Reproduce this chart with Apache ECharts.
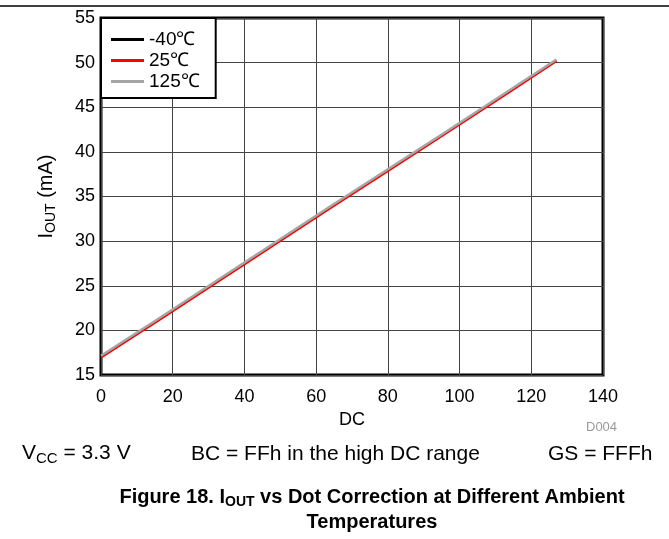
<!DOCTYPE html>
<html>
<head>
<meta charset="utf-8">
<script src="https://cdn.jsdelivr.net/npm/echarts@6/dist/echarts.min.js"></script>
<style>
html,body{margin:0;padding:0;background:#fff;}
#chart{width:669px;height:539px;}
</style>
</head>
<body>
<div id="chart"></div>
<script>
// Data
const dcValues = [0, 16, 32, 48, 64, 80, 96, 112, 127];
const seriesNames = ['-40℃', '25℃', '125℃'];
const iMinus40 = [17.05, 21.2, 25.4, 29.6, 33.8, 37.95, 42.1, 46.3, 50.25];
const i25 = [16.95, 21.1, 25.3, 29.5, 33.7, 37.85, 42.0, 46.2, 50.15];
const i125 = [17.15, 21.3, 25.5, 29.7, 33.9, 38.05, 42.2, 46.4, 50.35];
const xTicks = [0, 20, 40, 60, 80, 100, 120, 140];
const yTicks = [15, 20, 25, 30, 35, 40, 45, 50, 55];
const seriesColors = ['#000000', '#ff0000', '#a6a6a6'];

const pairs = (ys) => dcValues.map((x, i) => [x, ys[i]]);
const font = 'Liberation Sans';

const chart = echarts.init(document.getElementById('chart'));
const option = {
  animation: false,
  backgroundColor: '#ffffff',
  textStyle: { fontFamily: font },
  grid: {
    left: 101, right: 66, top: 18, bottom: 164,
    show: true, borderColor: '#000', borderWidth: 3, backgroundColor: 'transparent'
  },
  legend: {
    left: 101, top: 18, orient: 'vertical',
    data: seriesNames.map(n => ({ name: n, icon: 'rect' })),
    itemWidth: 33, itemHeight: 3, itemGap: 2,
    padding: [12, 16, 7, 10],
    borderColor: '#000', borderWidth: 2,
    backgroundColor: '#fff',
    textStyle: { fontFamily: font, fontSize: 19, color: '#000', padding: [0, 0, 0, 0] }
  },
  xAxis: {
    type: 'value', min: xTicks[0], max: xTicks[xTicks.length - 1], interval: 20,
    name: 'DC', nameLocation: 'middle', nameGap: 36,
    nameTextStyle: { fontFamily: font, fontSize: 18, color: '#000' },
    axisLine: { show: false }, axisTick: { show: false },
    axisLabel: { fontFamily: font, fontSize: 18, color: '#000', margin: 13 },
    splitLine: { show: true, lineStyle: { color: '#444', width: 1 } }
  },
  yAxis: {
    type: 'value', min: yTicks[0], max: yTicks[yTicks.length - 1], interval: 5,
    name: '{a|I}{s|OUT}{b| (mA)}', nameLocation: 'middle', nameGap: 43, nameRotate: 90,
    nameTextStyle: {
      fontFamily: font, color: '#000',
      rich: {
        a: { fontFamily: font, fontSize: 20, color: '#000', lineHeight: 22, verticalAlign: 'top', padding: [0, 0, 5, 0] },
        b: { fontFamily: font, fontSize: 20, color: '#000', lineHeight: 22, verticalAlign: 'top', padding: [0, 0, 5, 0] },
        s: { fontFamily: font, fontSize: 14, color: '#000', lineHeight: 15, verticalAlign: 'bottom' }
      }
    },
    axisLine: { show: false }, axisTick: { show: false },
    axisLabel: { fontFamily: font, fontSize: 18, color: '#000', margin: 6 },
    splitLine: { show: true, lineStyle: { color: '#444', width: 1 } }
  },
  series: [
    { name: seriesNames[0], type: 'line', data: pairs(iMinus40), symbol: 'none',
      lineStyle: { color: seriesColors[0], width: 2 }, itemStyle: { color: seriesColors[0] } },
    { name: seriesNames[1], type: 'line', data: pairs(i25), symbol: 'none',
      lineStyle: { color: seriesColors[1], width: 2 }, itemStyle: { color: seriesColors[1] } },
    { name: seriesNames[2], type: 'line', data: pairs(i125), symbol: 'none',
      lineStyle: { color: seriesColors[2], width: 2.5 }, itemStyle: { color: seriesColors[2] } }
  ],
  graphic: [
    { type: 'line', shape: { x1: 0, y1: 6, x2: 669, y2: 6 }, style: { stroke: '#000', lineWidth: 1.5 } },
    { type: 'text', left: 586, top: 421, style: { text: 'D004', font: '13px ' + font, fill: '#999' } },
    { type: 'text', left: 22, top: 443, style: {
        text: '{a|V}{s|CC}{a| = 3.3 V}',
        rich: {
          a: { font: '21px ' + font, fill: '#000', lineHeight: 23, verticalAlign: 'top', padding: [0, 0, 5, 0] },
          s: { font: '15px ' + font, fill: '#000', lineHeight: 16, verticalAlign: 'bottom' }
        } } },
    { type: 'text', left: 191, top: 444, style: { text: 'BC = FFh in the high DC range', font: '21px ' + font, fill: '#000' } },
    { type: 'text', left: 548, top: 444, style: { text: 'GS = FFFh', font: '21px ' + font, fill: '#000' } },
    { type: 'text', x: 372, y: 487, style: {
        text: '{a|Figure 18. I}{s|OUT}{a| vs Dot Correction at Different Ambient}',
        textAlign: 'center',
        rich: {
          a: { font: 'bold 20px ' + font, fill: '#000', lineHeight: 22, verticalAlign: 'top', padding: [0, 0, 5, 0] },
          s: { font: 'bold 14px ' + font, fill: '#000', lineHeight: 15, verticalAlign: 'bottom' }
        } } },
    { type: 'text', x: 372, y: 512, style: { text: 'Temperatures', font: 'bold 20px ' + font, fill: '#000', textAlign: 'center' } }
  ]
};
chart.setOption(option);
</script>
</body>
</html>
